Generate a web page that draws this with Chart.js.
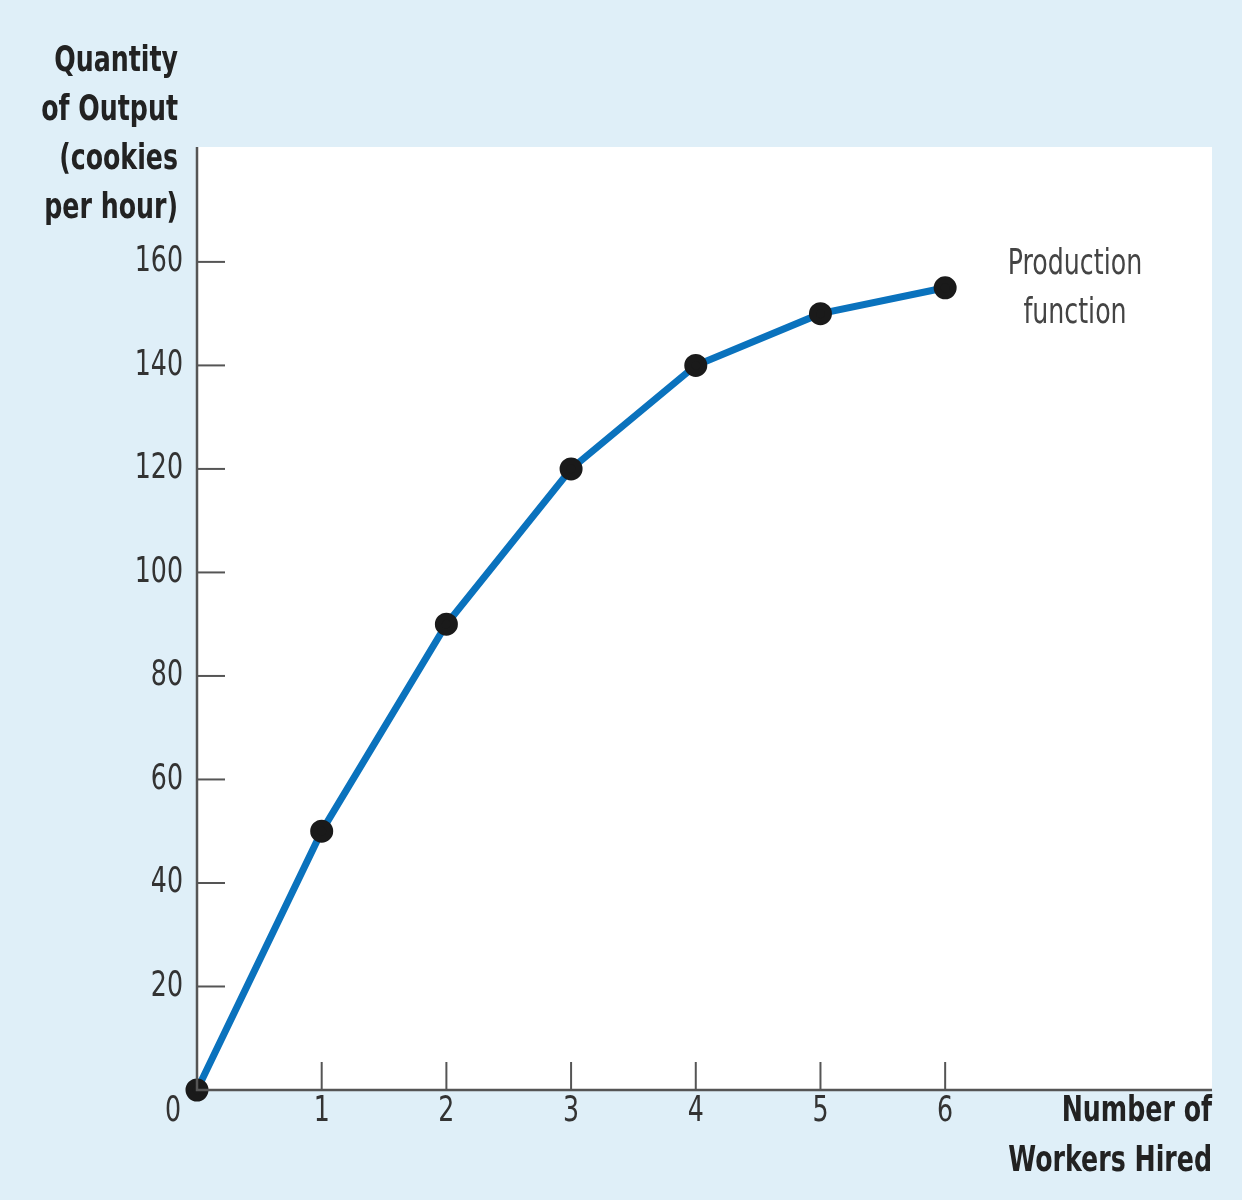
<!DOCTYPE html>
<html><head><meta charset="utf-8">
<script src="https://cdn.jsdelivr.net/npm/chart.js@4"></script>
<style>html,body{margin:0;padding:0;background:#dfeff8;}canvas{display:block}</style>
</head><body>
<div style="width:1242px;height:1200px"><canvas id="c"></canvas></div>
<script>
const workers = [0, 1, 2, 3, 4, 5, 6];
const output = [0, 50, 90, 120, 140, 150, 155];
const yTicks = [20, 40, 60, 80, 100, 120, 140, 160];
const xTicks = [1, 2, 3, 4, 5, 6];
const yTitle = ["Quantity", "of Output", "(cookies", "per hour)"];
const xTitle = ["Number of", "Workers Hired"];
const seriesLabel = ["Production", "function"];

const FONT = '"Liberation Sans Narrow","DejaVu Sans Condensed",sans-serif';
const SX = 0.78;
function txt(ctx, t, x, y) {
  ctx.save(); ctx.translate(x, y); ctx.scale(SX, 1); ctx.fillText(t, 0, 0); ctx.restore();
}
const deco = {
  id: 'deco',
  beforeDraw(chart) {
    const {ctx, chartArea: a} = chart;
    ctx.save();
    ctx.fillStyle = '#dfeff8';
    ctx.fillRect(0, 0, chart.width, chart.height);
    ctx.fillStyle = '#ffffff';
    ctx.fillRect(a.left, a.top, a.right - a.left, a.bottom - a.top);
    ctx.restore();
  },
  afterDatasetsDraw(chart) {
    const {ctx, chartArea: a, scales: {x, y}} = chart;
    ctx.save();
    ctx.strokeStyle = '#555';
    ctx.lineWidth = 2.5;
    ctx.beginPath();
    ctx.moveTo(a.left, a.top); ctx.lineTo(a.left, a.bottom); ctx.lineTo(a.right, a.bottom);
    ctx.stroke();
    ctx.lineWidth = 2;
    ctx.fillStyle = '#333';
    ctx.font = '36px ' + FONT;
    ctx.textAlign = 'right'; ctx.textBaseline = 'middle';
    yTicks.forEach(v => {
      const py = y.getPixelForValue(v);
      ctx.beginPath(); ctx.moveTo(a.left, py); ctx.lineTo(a.left + 28, py); ctx.stroke();
      txt(ctx, String(v), a.left - 14, py);
    });
    ctx.textAlign = 'center'; ctx.textBaseline = 'top';
    xTicks.forEach(v => {
      const px = x.getPixelForValue(v);
      ctx.beginPath(); ctx.moveTo(px, a.bottom); ctx.lineTo(px, a.bottom - 28); ctx.stroke();
      txt(ctx, String(v), px, a.bottom + 4);
    });
    txt(ctx, '0', a.left - 24, a.bottom + 4);
    ctx.font = 'bold 36px ' + FONT;
    ctx.fillStyle = '#222';
    ctx.textAlign = 'right'; ctx.textBaseline = 'middle';
    yTitle.forEach((t, i) => txt(ctx, t, 178, 62 + i * 49));
    xTitle.forEach((t, i) => txt(ctx, t, 1212, 1112 + i * 50));
    ctx.font = '36px ' + FONT;
    ctx.fillStyle = '#444';
    ctx.textAlign = 'center';
    seriesLabel.forEach((t, i) => txt(ctx, t, 1075, 265 + i * 49));
    ctx.restore();
  }
};
new Chart(document.getElementById('c'), {
  type: 'line',
  data: { datasets: [{
    data: workers.map((w, i) => ({x: w, y: output[i]})),
    borderColor: '#0a72bd', borderWidth: 7,
    pointBackgroundColor: '#1a1a1a', pointBorderColor: '#1a1a1a',
    pointRadius: 8, tension: 0, clip: false
  }]},
  options: {
    responsive: true, maintainAspectRatio: false, animation: false,
    layout: { padding: { left: 197, right: 30, top: 147, bottom: 110 } },
    plugins: { legend: { display: false }, tooltip: { enabled: false } },
    scales: {
      x: { type: 'linear', min: 0, max: 8.14, display: false },
      y: { min: 0, max: 182.2, display: false }
    }
  },
  plugins: [deco]
});
</script>
</body></html>
